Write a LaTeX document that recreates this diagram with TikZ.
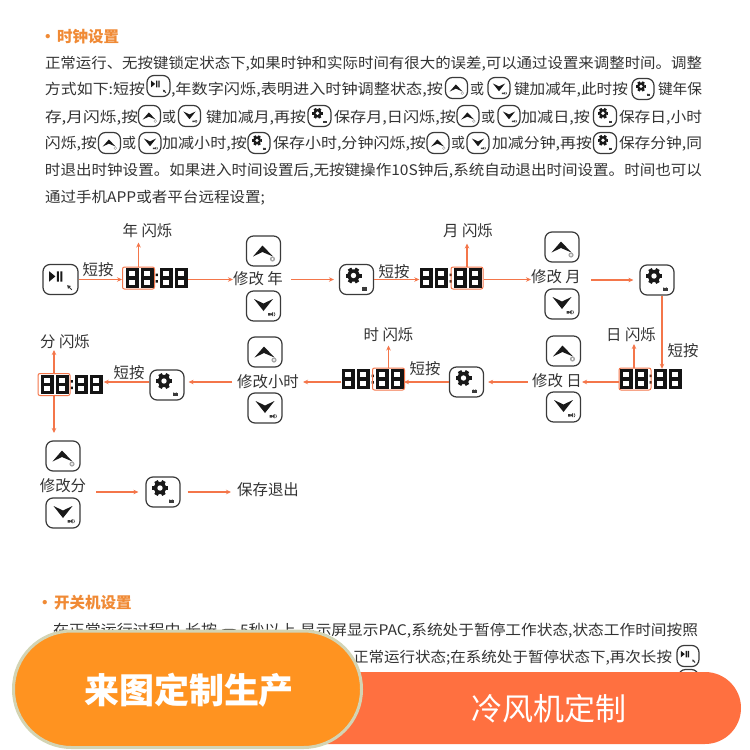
\documentclass[tikz,border=0pt]{standalone}
\usepackage{fontspec}
\usepackage{graphicx}
\setmainfont{Noto Sans CJK SC}
\usetikzlibrary{arrows.meta,calc}
\definecolor{ink}{HTML}{333333}
\definecolor{flowc}{HTML}{F4764A}
\definecolor{titlec}{HTML}{F08A35}
\definecolor{keyc}{HTML}{3A3A3A}
\definecolor{pillA}{HTML}{FF9320}
\definecolor{pillAb}{HTML}{D3D4B4}
\definecolor{pillB}{HTML}{FF7040}
\newcounter{segc}
\tikzset{
  body/.style={inner sep=0pt,outer sep=0pt,anchor=base west,text=ink,font=\fontsize{14.6pt}{15pt}\selectfont},
  ttl/.style={inner sep=0pt,anchor=base west,text=titlec,font=\fontsize{15.5pt}{16pt}\selectfont\bfseries},
  lab/.style={inner sep=0pt,text=ink,font=\fontsize{15.4pt}{16pt}\selectfont},
  keybox/.style={draw=keyc,fill=white,line width=1.2pt,rounded corners=7pt,inner sep=0pt},
  flow/.style={draw=flowc,line width=1.2pt,-{Stealth[length=5pt,width=4.5pt]}},
  hl/.style={draw=flowc,line width=1pt,rounded corners=2pt,inner sep=0pt,minimum width=32pt,minimum height=22pt},
  dispnode/.style={inner sep=0pt,minimum width=62pt,minimum height=20pt},
}
\newcommand\seg[4]{\stepcounter{segc}\pgfmathsetlengthmacro\segw{#2-#1}%
  \node[body] (seg\thesegc) at (#1,#3+5.2) {\resizebox{\segw}{\height}{#4}};}
\newcommand\glyphfinger{\fill[gray!70] (9,8) circle (2.6);\fill[white] (9,8) circle (1.2);}
\newcommand\glyphup{\fill[black!90] (-1,-5.5) -- (9.5,5.5) -- (-1,1) -- (-10.5,5.5) -- cycle;\glyphfinger}
\newcommand\glyphdown{\fill[black!90] (-9.5,-7) -- (0,-2.5) -- (9.5,-7) -- (0,5) -- cycle;
  \fill[keyc] (4.5,7) rectangle (7,9.5) (7,8.2) -- (9.5,6) -- (9.5,10.4) -- cycle;\draw[keyc,line width=.6pt] (10.7,6.5) -- (11.5,8.2) -- (10.7,10);}
\newcommand\glyphgear{\begin{scope}[shift={(-3,-4)}]
    \foreach \a in {0,60,...,300}{\fill[black!90] (\a:8) ++(\a+90:2) -- ++(\a+180:2.6) -- ++(\a-90:4) -- ++(\a:2.6) -- cycle;}
    \fill[black!90] (0,0) circle (6.2);\fill[white] (0,0) circle (2.7);\end{scope}
  \fill[keyc] (5.5,7.5) rectangle (10.5,11);\draw[keyc,line width=.8pt] (6.4,7.6) arc (180:0:1.6);}
\newcommand\glyphplay{\fill[black!90] (-11,-8) -- (-5,-3) -- (-11,2) -- cycle;
  \fill[black!90] (-3.5,-8) rectangle (-1.5,2) (-0.2,-8) rectangle (1.8,2);
  \draw[keyc,line width=1pt] (11,10) -- (8,7);\fill[keyc] (6.5,5.5) -- (10,6.3) -- (7.3,9) -- cycle;}
% \keyb{name}{cx}{cy}{w}{h}{glyph}
\newcommand\keyb[6]{\node[keybox,minimum width=#4pt,minimum height=#5pt] (#1) at (#2,#3) {};
  \pgfmathsetmacro\kscale{#4/34}%
  \begin{scope}[shift={(#1.center)},x=\kscale pt,y=-\kscale pt]#6\end{scope}}
% inline key
\newcommand\ikey[5]{\keyb{#1}{#2}{#3}{#4}{21}{#5}}
\newcommand\digit[2]{\draw[black!92,line width=3.1pt] (#1+1.5,#2-8.3) rectangle (#1+11,#2+8.3) (#1+1.5,#2) -- (#1+11,#2);}
% \disp{name}{x0}{cy}
\newcommand\disp[3]{\node[dispnode] (#1) at (#2+30.5,#3) {};
  \digit{#2}{#3}\digit{#2+15}{#3}\digit{#2+34}{#3}\digit{#2+49}{#3}
  \fill[black!92] (#2+29.5,#3-4.5) rectangle ++(2.4,2.6) (#2+29.5,#3+2) rectangle ++(2.4,2.6);}
\begin{document}
\begin{tikzpicture}[x=1pt,y=-1pt]
\useasboundingbox (0,0) rectangle (750,750);
\fill[white] (0,0) rectangle (750,750);
% --- section 1 text
\node[ttl] (title1) at (40,42.5) {·\hspace{1.5pt}时钟设置};
\seg{45}{702}{63}{正常运行、无按键锁定状态下,如果时钟和实际时间有很大的误差,可以通过设置来调整时间。调整}
\seg{45}{145}{89}{方式如下:短按}
\ikey{ip1}{158.5}{86}{23}{\glyphplay}
\seg{171}{443}{89}{,年数字闪烁,表明进入时钟调整状态,按}
\ikey{iu1}{456.5}{88}{22}{\glyphup}
\seg{470}{484}{89}{或}
\ikey{id1}{499}{88}{22}{\glyphdown}
\seg{514}{628}{89}{键加减年,此时按}
\ikey{ig1}{643}{89}{22}{\glyphgear}
\seg{658}{702}{89}{键年保}
\seg{45}{138}{117}{存,月闪烁,按}
\ikey{iu2}{149.5}{116}{22}{\glyphup}
\seg{162}{176}{117}{或}
\ikey{id2}{189.5}{116}{22}{\glyphdown}
\seg{206}{306}{117}{键加减月,再按}
\ikey{ig2}{319.5}{116}{23}{\glyphgear}
\seg{334}{456}{117}{保存月,日闪烁,按}
\ikey{iu3}{468}{116}{22}{\glyphup}
\seg{481}{495}{117}{或}
\ikey{id3}{509}{116}{22}{\glyphdown}
\seg{521}{590}{117}{加减日,按}
\ikey{ig3}{605}{116}{23}{\glyphgear}
\seg{619}{702}{117}{保存日,小时}
\seg{45}{97}{143}{闪烁,按}
\ikey{iu4}{109.5}{143}{22}{\glyphup}
\seg{122}{136}{143}{或}
\ikey{id4}{150}{143}{22}{\glyphdown}
\seg{162}{247}{143}{加减小时,按}
\ikey{ig4}{259}{143}{22}{\glyphgear}
\seg{273}{426}{143}{保存小时,分钟闪烁,按}
\ikey{iu5}{438}{143}{22}{\glyphup}
\seg{451}{465}{143}{或}
\ikey{id5}{478}{143}{22}{\glyphdown}
\seg{492}{592}{143}{加减分钟,再按}
\ikey{ig5}{605}{143}{23}{\glyphgear}
\seg{619}{702}{143}{保存分钟,同}
\seg{45}{702}{170}{时退出时钟设置。如果进入时间设置后,无按键操作10S钟后,系统自动退出时间设置。时间也可以}
\seg{45}{265}{197}{通过手机APP或者平台远程设置;}
% --- flow: row 1
\keyb{play}{60.5}{279.5}{35}{30}{\glyphplay}
\disp{d1}{126}{278}
\node[hl] (d1h) at (138.5,278) {};
\node[lab] (f1) at (147.5,231) {年 闪烁};
\node[lab] (s1) at (98,270) {短按};
\keyb{u1}{263.5}{251}{34}{30}{\glyphup}
\keyb{k1}{263.5}{306}{34}{30}{\glyphdown}
\node[lab] (m1) at (258,279) {修改 年};
\keyb{g1}{356.5}{279.5}{34}{30}{\glyphgear}
\node[lab] (s2) at (394,272) {短按};
\disp{d2}{420}{278}
\node[hl] (d2h) at (467,278) {};
\node[lab] (f2) at (468,231) {月 闪烁};
\keyb{u2}{562}{247}{34}{30}{\glyphup}
\keyb{k2}{562}{304}{34}{30}{\glyphdown}
\node[lab] (m2) at (556,277) {修改 月};
\keyb{g2}{657}{280}{34}{30}{\glyphgear}
% row 2
\node[lab] (s3) at (683,351) {短按};
\disp{d3}{620}{379}
\node[hl] (d3h) at (635,379) {};
\node[lab] (f3) at (631,335) {日 闪烁};
\keyb{u3}{563.5}{351}{34}{30}{\glyphup}
\keyb{k3}{563.5}{407}{34}{30}{\glyphdown}
\node[lab] (m3) at (557,381) {修改 日};
\keyb{g3}{466.5}{382}{34}{30}{\glyphgear}
\node[lab] (s4) at (425,369) {短按};
\disp{d4}{342}{379}
\node[hl] (d4h) at (388.5,379) {};
\node[lab] (f4) at (388.5,335) {时 闪烁};
\keyb{u4}{265}{352}{34}{30}{\glyphup}
\keyb{k4}{265}{408}{34}{30}{\glyphdown}
\node[lab] (m4) at (268,382) {修改小时};
\keyb{g4}{167}{385}{34}{30}{\glyphgear}
\node[lab] (s5) at (129,373) {短按};
\disp{d5}{41}{384.5}
\node[hl] (d5h) at (54,384.5) {};
\node[lab] (f5) at (65,342) {分 闪烁};
\keyb{u5}{63}{456}{34}{30}{\glyphup}
\keyb{k5}{63}{513}{34}{30}{\glyphdown}
\node[lab] (m5) at (63,486) {修改分};
\keyb{g5}{163}{492}{34}{30}{\glyphgear}
\node[lab] (done) at (268,490) {保存退出};
% --- connectors
\draw[flow] (play.east) -- (d1h.west |- play.east);
\draw[flow] (d1h.north) -- ([yshift=24pt]d1h.north);
\draw[flow] (d1.east |- play.east) -- (m1.west |- play.east);
\draw[flow,shorten <=8pt,shorten >=5pt] (m1.east |- g1.west) -- (g1.west);
\draw[flow] (g1.east) -- (d2.west |- g1.east);
\draw[flow] (d2h.north) -- ([yshift=23pt]d2h.north);
\draw[flow] (d2h.east |- g1.east) -- (m2.west |- g1.east);
\draw[flow,shorten <=10pt,shorten >=6pt] (m2.east |- g2.west) -- (g2.west);
\draw[flow] (g2.south -| 662,0) -- (662,0 |- d3.north);
\draw[flow] (634,0 |- d3h.north) -- (634,344);
\draw[flow] (d3h.west |- g3.east) -- (m3.east |- g3.east);
\draw[flow,shorten <=4pt,shorten >=4pt] (m3.west |- g3.east) -- (g3.east);
\draw[flow,shorten >=-1pt] (g3.west) -- (d4h.east |- g3.west);
\draw[flow] (d4h.north) -- ([yshift=22pt]d4h.north);
\draw[flow,shorten >=4pt] (d4.west |- g3.west) -- (m4.east |- g3.west);
\draw[flow,shorten <=5pt,shorten >=4pt] (m4.west |- g3.west) -- (g4.east |- g3.west);
\draw[flow,shorten >=1pt] (g4.west |- g3.west) -- (d5.east |- g3.west);
\draw[flow] (d5h.north) -- ([yshift=23pt]d5h.north);
\draw[flow] (d5h.south) -- ([yshift=-37pt]d5h.south);
\draw[flow,shorten <=10pt,shorten >=7pt] (m5.east |- g5.west) -- (g5.west);
\draw[flow,shorten <=7pt,shorten >=6pt] (g5.east) -- (done.west |- g5.east);
% --- section 2 text
\node[ttl] (title2) at (37,608) {·\hspace{1.5pt}开关机设置};
\seg{53}{217}{630}{在正常运行过程中,长按}
\ikey{ip2}{229}{640}{21}{\glyphplay}
\seg{240}{698}{630}{5秒以上,显示屏显示PAC,系统处于暂停工作状态,状态工作时间按照}
\seg{353}{672}{657}{正常运行状态;在系统处于暂停状态下,再次长按}
\ikey{ip3}{688}{656}{22}{\glyphplay}
\ikey{ip4}{688.5}{680}{20}{\glyphplay}
% --- pills
\path[fill=pillB,rounded corners=36pt] (200,672) rectangle (741,744);
\node[inner sep=0pt,text=white,font=\fontsize{31pt}{32pt}\selectfont] (lblB) at (549,709) {冷风机定制};
\draw[pillAb,fill=pillA,line width=3pt,rounded corners=58pt] (13.5,631) rectangle (361.5,747.5);
\node[inner sep=0pt,text=white,font=\fontsize{35pt}{36pt}\selectfont\bfseries] (lblA) at (189,690) {来图定制生产};
\end{tikzpicture}
\end{document}
